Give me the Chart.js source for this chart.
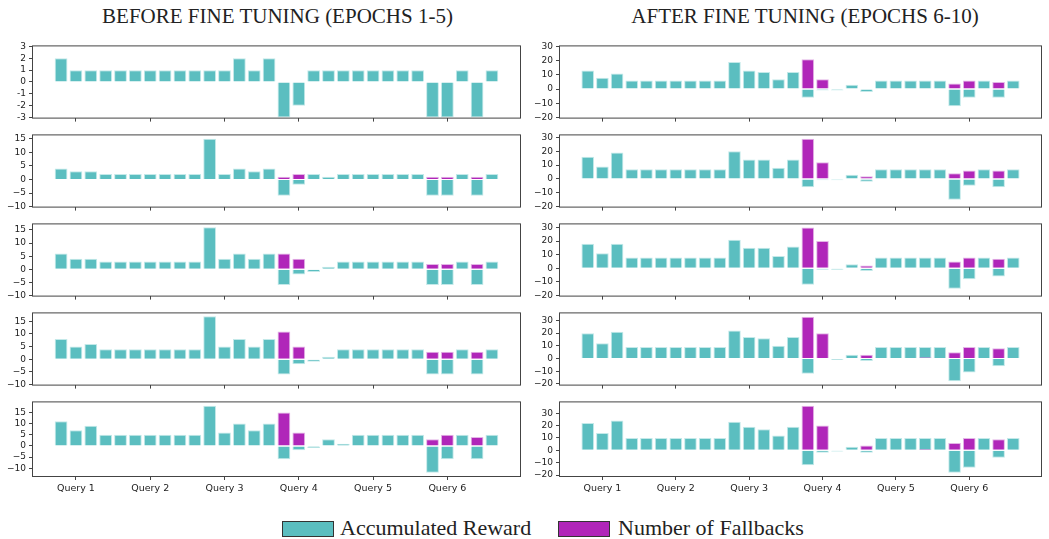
<!DOCTYPE html>
<html><head><meta charset="utf-8">
<script src="https://cdn.jsdelivr.net/npm/chart.js@4/dist/chart.umd.min.js"></script>
<style>
html,body{margin:0;padding:0;background:#fff;}
#wrap{position:relative;width:1049px;height:539px;overflow:hidden;background:#fff;}
canvas{position:absolute;}
.title{position:absolute;top:6px;font-family:"Liberation Serif","DejaVu Serif",serif;font-size:21px;line-height:21px;color:#222;text-align:center;white-space:nowrap;}
.lg-box{position:absolute;top:521px;width:50px;height:14px;border:1px solid #333;}
.lg-text{position:absolute;top:517px;font-family:"Liberation Serif","DejaVu Serif",serif;font-size:22px;line-height:22px;color:#222;white-space:nowrap;}
</style></head>
<body><div id="wrap">
<div class="title" style="left:0;width:555px;">BEFORE FINE TUNING (EPOCHS 1-5)</div>
<div class="title" style="left:560px;width:490px;">AFTER FINE TUNING (EPOCHS 6-10)</div>
<div class="lg-box" style="left:282px;background:#5bbec0;"></div>
<div class="lg-text" style="left:340px;">Accumulated Reward</div>
<div class="lg-box" style="left:558px;background:#b026b9;"></div>
<div class="lg-text" style="left:618px;">Number of Fallbacks</div>
</div>
<script>
// ---- data ----
const queryLabels = ['Query 1','Query 2','Query 3','Query 4','Query 5','Query 6'];
const queryTickPositions = [1, 6, 11, 16, 21, 26];

const rewardBefore1 = [2,1,1,1,1,1,1,1,1,1, 1,1,2,1,2, -3,-2, 1,1,1,1,1,1,1,1, -3,-3,1,-3,1];
const rewardBefore2 = [4,3,3,2,2,2,2,2,2,2, 15,2,4,3,4, -6,-2, 2,1,2,2,2,2,2,2, -6,-6,2,-6,2];
const rewardBefore3 = [6,4,4,3,3,3,3,3,3,3, 16,4,6,4,6, -6,-2, -1,1,3,3,3,3,3,3, -6,-6,3,-6,3];
const rewardBefore4 = [8,5,6,4,4,4,4,4,4,4, 17,5,8,5,8, -6,-2, -1,1,4,4,4,4,4,4, -6,-6,4,-6,4];
const rewardBefore5 = [11,7,9,5,5,5,5,5,5,5, 18,6,10,7,10, -6,-2, -1,3,1,5,5,5,5,5, -12,-6,5,-6,5];

const fallbacksBefore1 = [0,0,0,0,0,0,0,0,0,0, 0,0,0,0,0, 0,0, 0,0,0,0,0,0,0,0, 0,0,0,0,0];
const fallbacksBefore2 = [0,0,0,0,0,0,0,0,0,0, 0,0,0,0,0, 1,2, 0,0,0,0,0,0,0,0, 1,1,0,1,0];
const fallbacksBefore3 = [0,0,0,0,0,0,0,0,0,0, 0,0,0,0,0, 6,4, 0,0,0,0,0,0,0,0, 2,2,0,2,0];
const fallbacksBefore4 = [0,0,0,0,0,0,0,0,0,0, 0,0,0,0,0, 11,5, 0,0,0,0,0,0,0,0, 3,3,0,3,0];
const fallbacksBefore5 = [0,0,0,0,0,0,0,0,0,0, 0,0,0,0,0, 15,6, 0,0,0,0,0,0,0,0, 3,5,0,4,0];

const rewardAfter1 = [13,8,11,6,6,6,6,6,6,6, 19,13,12,7,12, -6,-1, -1,3,-2,6,6,6,6,6, -12,-6,6,-6,6];
const rewardAfter2 = [16,9,19,7,7,7,7,7,7,7, 20,14,14,8,14, -6,-1, -1,3,-2,7,7,7,7,7, -15,-5,7,-6,7];
const rewardAfter3 = [18,11,18,8,8,8,8,8,8,8, 21,15,15,9,16, -12,-1, -1,3,-2,8,8,8,8,8, -15,-8,8,-6,8];
const rewardAfter4 = [20,12,21,9,9,9,9,9,9,9, 22,17,16,10,17, -12,0, -1,3,-2,9,9,9,9,9, -18,-11,9,-6,9];
const rewardAfter5 = [22,14,24,10,10,10,10,10,10,10, 23,19,17,12,19, -12,-2, -1,3,-2,10,10,10,10,10, -18,-14,10,-6,10];

const fallbacksAfter1 = [0,0,0,0,0,0,0,0,0,0, 0,0,0,0,0, 21,7, 0,0,0,0,0,0,0,0, 4,6,0,5,0];
const fallbacksAfter2 = [0,0,0,0,0,0,0,0,0,0, 0,0,0,0,0, 29,12, 0,0,2,0,0,0,0,0, 4,6,0,6,0];
const fallbacksAfter3 = [0,0,0,0,0,0,0,0,0,0, 0,0,0,0,0, 30,20, 0,0,2,0,0,0,0,0, 5,8,0,7,0];
const fallbacksAfter4 = [0,0,0,0,0,0,0,0,0,0, 0,0,0,0,0, 33,20, 0,0,3,0,0,0,1,0, 5,9,0,8,0];
const fallbacksAfter5 = [0,0,0,0,0,0,0,0,0,0, 0,0,0,0,0, 36,20, 0,0,4,0,0,0,1,0, 6,10,0,9,0];

const yTicksBeforeFirst = [-3,-2,-1,0,1,2,3];
const yTicksBefore = [-10,-5,0,5,10,15];
const yTicksAfter = [-20,-10,0,10,20,30];
const yLimitsBefore = [[-3,3],[-10,16.2],[-10,17.1],[-10,18.1],[-13.5,19.5]];
const yLimitsAfter = [[-20,30],[-20,31.4],[-20,32.2],[-20.55,35.55],[-20.7,38.7]];
const xLimits = [-1.89, 30.89];

// ---- styles / layout ----
const CYAN = '#5bbec0', MAGENTA = '#b026b9';
const rowTops = [46, 135, 224, 313, 402];
const BOX_H = 74;
const cols = [{left:0, yW:33, boxW:487}, {left:520, yW:40, boxW:481}];

const boxPlugin = {
  id: 'box',
  afterDraw(chart) {
    const {ctx, chartArea: a} = chart;
    ctx.save();
    ctx.strokeStyle = '#444';
    ctx.lineWidth = 1;
    ctx.strokeRect(a.left - 0.5, a.top - 0.5, a.right - a.left + 1, a.bottom - a.top + 1);
    ctx.restore();
  }
};

function fmt(v, hyphen) {
  if (v < 0) return (hyphen ? '-' : '\u2212') + Math.abs(v);
  return String(v);
}

function makePanel(col, row, rewards, fallbacks, lim, yTicks, hyphen) {
  const c = cols[col];
  const showX = row === 4;
  const xH = showX ? 24 : 6;
  const cv = document.createElement('canvas');
  const W = c.yW + c.boxW + 5, H = 8 + BOX_H + xH;
  cv.width = W; cv.height = H;
  cv.style.left = c.left + 'px';
  cv.style.top = (rowTops[row] - 8) + 'px';
  cv.style.width = W + 'px'; cv.style.height = H + 'px';
  document.getElementById('wrap').appendChild(cv);
  const pts = arr => arr.map((v, i) => ({x: i, y: v}));
  new Chart(cv, {
    type: 'bar',
    data: {
      datasets: [
        {label: 'Number of Fallbacks', data: pts(fallbacks), backgroundColor: MAGENTA,
         borderColor: '#e3b5e6', borderWidth: 1, order: 0},
        {label: 'Accumulated Reward', data: pts(rewards), backgroundColor: CYAN,
         borderColor: '#c3e9e9', borderWidth: 1, order: 1}
      ]
    },
    options: {
      responsive: false, animation: false, devicePixelRatio: 1,
      layout: {padding: {top: 8, right: 5, bottom: 0, left: 0}},
      datasets: {bar: {grouped: false, barPercentage: 1, categoryPercentage: 0.86}},
      plugins: {legend: {display: false}, tooltip: {enabled: false}},
      scales: {
        x: {
          type: 'linear', min: xLimits[0], max: xLimits[1], offset: false,
          border: {display: false},
          grid: {display: true, drawOnChartArea: false, drawTicks: true, tickLength: 4, color: '#444', offset: false},
          ticks: {display: showX, autoSkip: false, maxRotation: 0, padding: 3, color: '#222',
                  font: {family: 'DejaVu Sans', size: 9.5},
                  callback: (v, i) => queryLabels[i]},
          afterBuildTicks: s => { s.ticks = queryTickPositions.map(v => ({value: v})); },
          afterFit: s => { s.height = xH; }
        },
        y: {
          min: lim[0], max: lim[1],
          border: {display: false},
          grid: {display: true, drawOnChartArea: false, drawTicks: true, tickLength: 4, color: '#444'},
          ticks: {autoSkip: false, padding: 3, color: '#222', font: {family: 'DejaVu Sans', size: 9},
                  callback: v => fmt(v, hyphen)},
          afterBuildTicks: s => { s.ticks = yTicks.map(v => ({value: v})); },
          afterFit: s => { s.width = c.yW; }
        }
      }
    },
    plugins: [boxPlugin]
  });
}

const before = [[rewardBefore1, fallbacksBefore1],[rewardBefore2, fallbacksBefore2],[rewardBefore3, fallbacksBefore3],[rewardBefore4, fallbacksBefore4],[rewardBefore5, fallbacksBefore5]];
const after = [[rewardAfter1, fallbacksAfter1],[rewardAfter2, fallbacksAfter2],[rewardAfter3, fallbacksAfter3],[rewardAfter4, fallbacksAfter4],[rewardAfter5, fallbacksAfter5]];
before.forEach((d, r) => makePanel(0, r, d[0], d[1], yLimitsBefore[r], r === 0 ? yTicksBeforeFirst : yTicksBefore, r === 0));
after.forEach((d, r) => makePanel(1, r, d[0], d[1], yLimitsAfter[r], yTicksAfter, false));
</script>
</body></html>
